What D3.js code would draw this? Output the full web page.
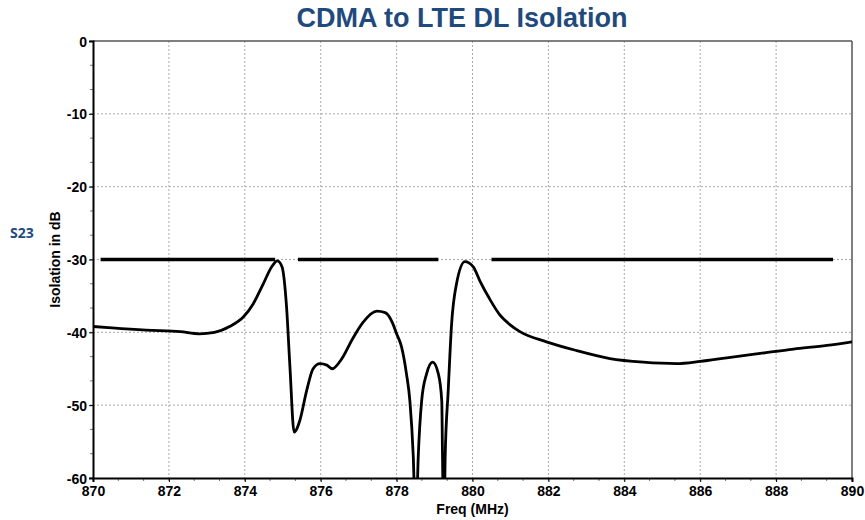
<!DOCTYPE html>
<html>
<head>
<meta charset="utf-8">
<script src="https://cdn.jsdelivr.net/npm/d3@7"></script>
<style>
  body { margin: 0; background: #fff; }
  svg { display: block; font-family: Arial, "Liberation Sans", sans-serif; }
</style>
</head>
<body>
<svg id="chart" width="865" height="520"></svg>
<script>
const freqs = [870.0, 870.5, 871.4, 872.3, 872.8, 873.2, 873.6, 873.96, 874.22, 874.49,
  874.71, 874.86, 874.98, 875.1, 875.19, 875.3, 875.45, 875.63, 875.8, 875.98,
  876.16, 876.31, 876.52, 876.86, 877.12, 877.48, 877.7, 877.9, 878.0, 878.13,
  878.26, 878.35, 878.44, 878.48, 878.53, 878.57, 878.66, 878.79, 878.95, 879.1,
  879.19, 879.21, 879.23, 879.26, 879.28, 879.36, 879.45, 879.58, 879.8, 880.02,
  880.2, 880.45, 880.72, 881.0, 881.25, 881.95, 882.74, 883.62, 884.5, 885.38,
  886.0, 886.7, 887.58, 888.46, 889.34, 890.0];
const isolation = [-39.2, -39.4, -39.7, -39.9, -40.2, -40.0, -39.2, -37.9, -36.1, -33.3,
  -31.0, -30.2, -31.0, -36.5, -44.8, -53.7, -52.1, -48.0, -45.0, -44.3,
  -44.5, -45.0, -43.9, -40.7, -38.6, -37.1, -37.3, -38.8, -40.2, -42.0,
  -45.7, -49.4, -57.1, -63, -63, -57.1, -49.4, -45.7, -44.1, -45.7,
  -49.4, -57.1, -63, -63, -57.1, -48.0, -38.8, -33.3, -30.3, -31.0,
  -33.0, -35.4, -37.6, -39.0, -39.9, -41.3, -42.5, -43.6, -44.1, -44.3,
  -44.0, -43.5, -42.9, -42.3, -41.8, -41.3];

// -30 dB spec segments (start, end in MHz)
const specStart = [870.2, 875.4, 880.5];
const specEnd = [874.8, 879.1, 889.5];
const specLevel = -30;

const xTicks = [870, 872, 874, 876, 878, 880, 882, 884, 886, 888, 890];
const yTicks = [0, -10, -20, -30, -40, -50, -60];

const margin = { top: 41, right: 13, bottom: 42, left: 93 },
  width = 865 - margin.left - margin.right,
  height = 520 - margin.top - margin.bottom;

const svg = d3.select("#chart");
const g = svg.append("g").attr("transform", "translate(" + margin.left + "," + margin.top + ")");

const x = d3.scaleLinear().domain([870, 890]).range([0, width]);
const y = d3.scaleLinear().domain([-60, 0]).range([height, 0]);

// dotted grid
g.selectAll(".vgrid")
  .data(xTicks.slice(1, -1))
  .enter().append("line")
  .attr("x1", d => x(d)).attr("x2", d => x(d))
  .attr("y1", 0).attr("y2", height)
  .attr("stroke", "#aaa").attr("stroke-dasharray", "2,2");

g.selectAll(".hgrid")
  .data(yTicks.slice(1, -1))
  .enter().append("line")
  .attr("x1", 0).attr("x2", width)
  .attr("y1", d => y(d)).attr("y2", d => y(d))
  .attr("stroke", "#aaa").attr("stroke-dasharray", "2,2");

// minor ticks (3 per major division)
const xMinor = d3.range(0, 31).map(i => 870 + i * 2 / 3);
const yMinor = d3.range(0, 19).map(i => -60 + i * 10 / 3);
g.selectAll(".xminor").data(xMinor).enter().append("line")
  .attr("x1", d => x(d)).attr("x2", d => x(d))
  .attr("y1", height).attr("y2", height + 3)
  .attr("stroke", "#777");
g.selectAll(".yminor").data(yMinor).enter().append("line")
  .attr("x1", -3).attr("x2", 0)
  .attr("y1", d => y(d)).attr("y2", d => y(d))
  .attr("stroke", "#777");

// frame: grey top/right, black left/bottom
g.append("line").attr("x1", 0).attr("x2", width).attr("y1", 0).attr("y2", 0)
  .attr("stroke", "#555").attr("stroke-width", 1.5);
g.append("line").attr("x1", width).attr("x2", width).attr("y1", 0).attr("y2", height)
  .attr("stroke", "#555").attr("stroke-width", 1.5);

// axes - plain hyphen minus like the original
const fmt = d => String(d);
const xAxis = g.append("g").attr("transform", "translate(0," + height + ")")
  .call(d3.axisBottom(x).tickValues(xTicks).tickSize(4).tickPadding(4).tickFormat(fmt));
const yAxis = g.append("g")
  .call(d3.axisLeft(y).tickValues(yTicks).tickSize(4).tickPadding(2).tickFormat(fmt));

[xAxis, yAxis].forEach(a => {
  a.select(".domain").attr("stroke", "#000").attr("stroke-width", 2);
  a.selectAll(".tick line").attr("stroke", "#000");
  a.selectAll("text")
    .attr("fill", "#000")
    .style("font-size", "14px")
    .style("font-weight", "bold")
    .style("font-family", "Arial, 'Liberation Sans', sans-serif");
});
yAxis.selectAll("text").attr("dy", "0.36em");

// clip the trace to the plot area
svg.append("defs").append("clipPath").attr("id", "plotClip")
  .append("rect").attr("width", width).attr("height", height);

// spec line
g.selectAll(".spec")
  .data(specStart)
  .enter().append("line")
  .attr("x1", d => x(d))
  .attr("x2", (d, i) => x(specEnd[i]))
  .attr("y1", y(specLevel)).attr("y2", y(specLevel))
  .attr("stroke", "#000").attr("stroke-width", 3.5);

// S23 trace
const trace = freqs.map((f, i) => [f, isolation[i]]);
const line = d3.line()
  .x(d => x(d[0]))
  .y(d => y(d[1]))
  .curve(d3.curveMonotoneX);

g.append("path")
  .datum(trace)
  .attr("clip-path", "url(#plotClip)")
  .attr("fill", "none")
  .attr("stroke", "#000")
  .attr("stroke-width", 2.8)
  .attr("stroke-linejoin", "round")
  .attr("d", line);

// titles
svg.append("text")
  .attr("x", 462).attr("y", 27)
  .attr("text-anchor", "middle")
  .attr("fill", "#1f4a7e")
  .style("font-size", "27px")
  .style("font-weight", "bold")
  .text("CDMA to LTE DL Isolation");

svg.append("text")
  .attr("x", margin.left + width / 2).attr("y", 514)
  .attr("text-anchor", "middle")
  .style("font-size", "14px")
  .style("font-weight", "bold")
  .text("Freq (MHz)");

svg.append("text")
  .attr("transform", "translate(60," + (margin.top + height / 2) + ") rotate(-90)")
  .attr("text-anchor", "middle")
  .style("font-size", "14px")
  .style("font-weight", "bold")
  .text("Isolation in dB");

svg.append("text")
  .attr("x", 10).attr("y", 238)
  .attr("fill", "#1f4a7e")
  .style("font-family", "'Open Sans', sans-serif")
  .style("font-size", "14px")
  .style("font-weight", "bold")
  .text("S23");
</script>
</body>
</html>
